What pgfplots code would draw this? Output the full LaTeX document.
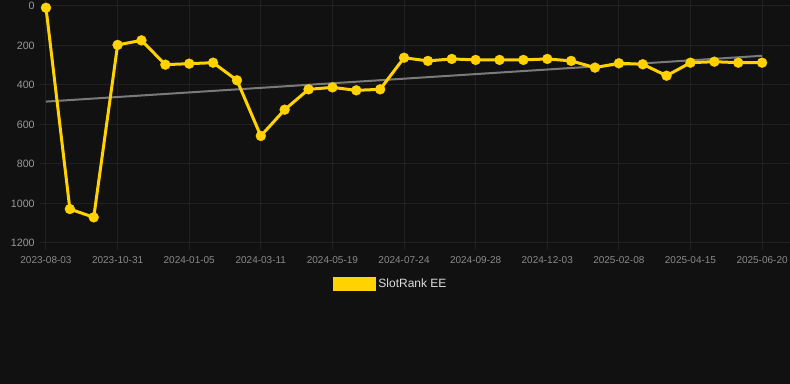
\documentclass[border=0pt]{standalone}
\usepackage{fontspec}
\setmainfont{Liberation Sans}
\usepackage{pgfplots}
\pgfplotsset{compat=1.18}
\definecolor{bg}{HTML}{111111}
\definecolor{gridc}{HTML}{212121}
\definecolor{tickc}{HTML}{8A8A8A}
\definecolor{ytickc}{HTML}{999999}
\definecolor{legc}{HTML}{DDDDDD}
\definecolor{gold}{HTML}{FFD200}
\definecolor{trend}{HTML}{7A7A7A}
\begin{document}
\begin{tikzpicture}
\fill[bg] (0pt,0pt) rectangle (592.5pt,-288pt);
\begin{axis}[
  at={(30pt,-182.25pt)}, anchor=south west,
  scale only axis, width=562.5pt, height=177.75pt,
  xmin=-0.251, xmax=31.17, ymin=0, ymax=1200, y dir=reverse,
  clip=false,
  axis line style={draw=none},
  xtick={0,3,...,30},
  xticklabels={2023-08-03,2023-10-31,2024-01-05,2024-03-11,2024-05-19,2024-07-24,2024-09-28,2024-12-03,2025-02-08,2025-04-15,2025-06-20},
  ytick={0,200,...,1200},
  grid=major, major grid style={draw=gridc, line width=0.75pt},
  tick align=outside, major tick length=5.25pt,
  xtick style={draw=gridc, line width=0.75pt},
  ytick style={draw=none},
  ticklabel style={font=\fontsize{7.5}{9}\selectfont, text=tickc},
  xticklabel style={yshift=-1pt},
  yticklabel style={font=\fontsize{8}{9}\selectfont, text=ytickc, xshift=4.75pt},
  /pgf/number format/assume math mode=true,
  /pgf/number format/1000 sep={},
  legend style={at={(axis description cs:0.468,-0.175)}, anchor=center, draw=none, fill=none, font=\fontsize{9}{11}\selectfont, text=legc},
]
\addplot[trend, line width=1.5pt, forget plot] coordinates {(0,484) (30,252)};
\addplot[gold, line width=2.25pt, mark=*, mark size=3.75pt, mark options={solid, fill=gold, draw=gold, line width=0.2pt},
  legend image code/.code={\fill[gold] (0pt,-4.125pt) rectangle (30pt,4.125pt);}]
coordinates {
(0,9) (1,1028) (2,1070) (3,197) (4,174) (5,297) (6,292) (7,287) (8,376) (9,658)
(10,525) (11,422) (12,412) (13,427) (14,422) (15,262) (16,278) (17,268) (18,273) (19,273)
(20,273) (21,268) (22,278) (23,312) (24,290) (25,295) (26,353) (27,287) (28,282) (29,287) (30,287)
};
\addlegendentry{SlotRank EE}
\end{axis}
\pgfresetboundingbox
\useasboundingbox (0pt,0pt) rectangle (592.5pt,-288pt);
\end{tikzpicture}
\end{document}
